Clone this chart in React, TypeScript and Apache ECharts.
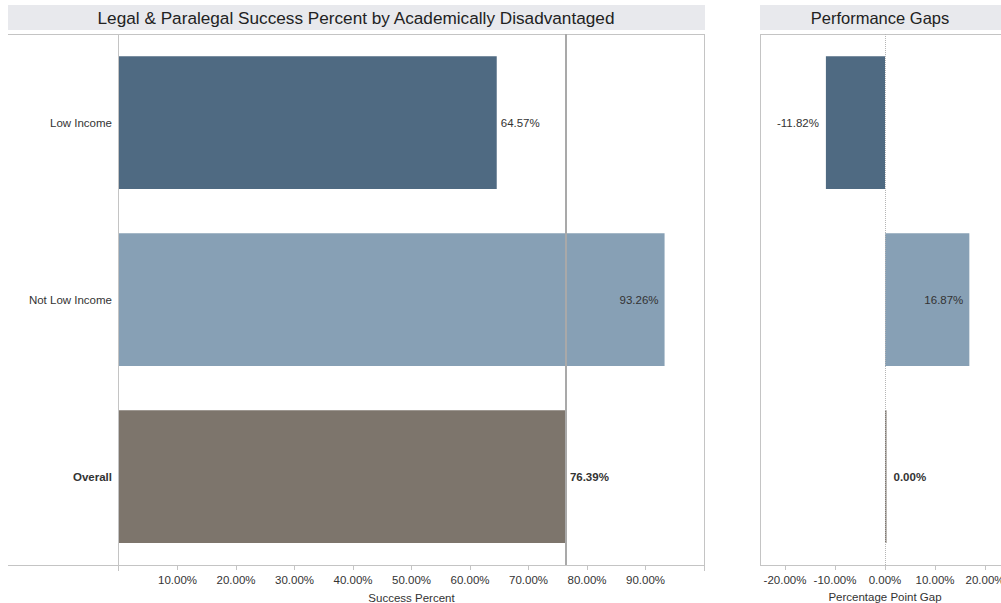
import React, { useEffect, useRef } from "react";
import * as echarts from "echarts";

const categories = ["Low Income", "Not Low Income", "Overall"];
const successPct = [64.57, 93.26, 76.39];
const gapPct = [-11.82, 16.87, 0.0];
const barColors = ["#4f6a82", "#87a0b5", "#7d756c"];
const rightTicks = [-20, -10, 0, 10, 20];

const FONT = "'Liberation Sans', Arial, sans-serif";
const TEXT = "#333333";
const FRAME = "#c4c4c4";

export default function App() {
  const ref = useRef<HTMLDivElement>(null);
  useEffect(() => {
    if (!ref.current) return;
    const chart = echarts.init(ref.current, undefined, { renderer: "svg" });
    const overallIdx = categories.indexOf("Overall");

    const leftLabelPos = ["right", "insideRight", "right"];
    const rightLabelPos = ["left", "insideRight", "right"];

    const fmt = (v: number) => v.toFixed(2) + "%";

    const leftData = successPct.map((v, i) => ({
      value: v,
      itemStyle: { color: barColors[i] },
      label: {
        show: true,
        position: leftLabelPos[i],
        distance: i === 1 ? 6 : 4,
        formatter: fmt(v),
        color: TEXT,
        fontSize: 11.5,
        fontFamily: FONT,
        fontWeight: i === overallIdx ? "bold" : "normal",
      },
    }));
    const rightData = gapPct.map((v, i) => ({
      value: v,
      itemStyle: { color: barColors[i] },
      label: {
        show: true,
        position: rightLabelPos[i],
        distance: i === 1 ? 6 : 7,
        formatter: fmt(v),
        color: TEXT,
        fontSize: 11.5,
        fontFamily: FONT,
        fontWeight: i === overallIdx ? "bold" : "normal",
      },
    }));

    const option: any = {
      animation: false,
      backgroundColor: "#ffffff",
      textStyle: { fontFamily: FONT },
      grid: [
        { left: 119, top: 34, width: 585, height: 531, containLabel: false, outerBoundsMode: "none" },
        { left: 761, top: 34, width: 240, height: 531, containLabel: false, outerBoundsMode: "none" },
      ],
      xAxis: [
        {
          type: "value",
          gridIndex: 0,
          min: 0,
          max: 100,
          interval: 10,
          axisLine: { show: false },
          axisTick: { show: true, length: 5, lineStyle: { color: FRAME } },
          splitLine: { show: false },
          axisLabel: {
            showMinLabel: false,
            showMaxLabel: false,
            color: TEXT,
            fontSize: 11.5,
            fontFamily: FONT,
            margin: 9,
            formatter: (v: number) => fmt(v),
          },
          name: "Success Percent",
          nameLocation: "middle",
          nameGap: 27,
          nameTextStyle: { color: TEXT, fontSize: 11.5, fontFamily: FONT },
        },
        {
          type: "value",
          gridIndex: 1,
          min: -24.8,
          max: 23.2,
          axisLine: { show: false },
          axisTick: {
            show: true,
            length: 5,
            customValues: rightTicks,
            lineStyle: { color: FRAME },
          },
          splitLine: { show: false },
          axisLabel: {
            customValues: rightTicks,
            color: TEXT,
            fontSize: 11.5,
            fontFamily: FONT,
            margin: 9,
            formatter: (v: number) => fmt(v),
          },
        },
      ],
      yAxis: [
        {
          type: "category",
          gridIndex: 0,
          data: categories,
          inverse: true,
          axisLine: { show: false },
          axisTick: { show: false },
          axisLabel: {
            color: TEXT,
            fontSize: 11.5,
            fontFamily: FONT,
            margin: 7,
            formatter: (v: string) => (v === "Overall" ? "{b|" + v + "}" : v),
            rich: {
              b: { fontWeight: "bold", color: TEXT, fontSize: 11.5, fontFamily: FONT },
            },
          },
        },
        {
          type: "category",
          gridIndex: 1,
          data: categories,
          inverse: true,
          axisLine: { show: false },
          axisTick: { show: false },
          axisLabel: { show: false },
        },
      ],
      series: [
        {
          type: "bar",
          xAxisIndex: 0,
          yAxisIndex: 0,
          barWidth: "75%",
          data: leftData,
          markLine: {
            silent: true,
            symbol: "none",
            label: { show: false },
            lineStyle: { color: "#a9a9a9", width: 2, type: "solid" },
            data: [{ xAxis: successPct[overallIdx] }],
          },
        },
        {
          type: "bar",
          xAxisIndex: 1,
          yAxisIndex: 1,
          barWidth: "75%",
          barMinHeight: 1.5,
          data: rightData,
          markLine: {
            silent: true,
            symbol: "none",
            label: { show: false },
            lineStyle: { color: "#b5b5b5", width: 1, type: "dotted" },
            data: [{ xAxis: 0 }],
          },
        },
      ],
      graphic: [
        { type: "rect", shape: { x: 8, y: 5, width: 697, height: 25 }, style: { fill: "#e8e9ed" }, silent: true },
        {
          type: "text",
          x: 356,
          y: 18,
          style: {
            text: "Legal & Paralegal Success Percent by Academically Disadvantaged",
            fill: "#222222",
            font: "17.2px 'Liberation Sans', Arial, sans-serif",
            align: "center",
            verticalAlign: "middle",
          },
          silent: true,
        },
        { type: "rect", shape: { x: 760, y: 5, width: 245, height: 25 }, style: { fill: "#e8e9ed" }, silent: true },
        {
          type: "text",
          x: 880,
          y: 18,
          style: {
            text: "Performance Gaps",
            fill: "#222222",
            font: "16.5px 'Liberation Sans', Arial, sans-serif",
            align: "center",
            verticalAlign: "middle",
          },
          silent: true,
        },
        {
          type: "text",
          x: 885,
          y: 597,
          style: {
            text: "Percentage Point Gap",
            fill: TEXT,
            font: "11.5px 'Liberation Sans', Arial, sans-serif",
            align: "center",
            verticalAlign: "middle",
          },
          silent: true,
        },
        // left panel frame
        { type: "line", shape: { x1: 8, y1: 34.5, x2: 705, y2: 34.5 }, style: { stroke: FRAME, lineWidth: 1 }, silent: true },
        { type: "line", shape: { x1: 8, y1: 565.5, x2: 705, y2: 565.5 }, style: { stroke: FRAME, lineWidth: 1 }, silent: true },
        { type: "line", shape: { x1: 118.5, y1: 34, x2: 118.5, y2: 571 }, style: { stroke: FRAME, lineWidth: 1 }, silent: true },
        { type: "line", shape: { x1: 704.5, y1: 34, x2: 704.5, y2: 571 }, style: { stroke: FRAME, lineWidth: 1 }, silent: true },
        // right panel frame
        { type: "line", shape: { x1: 760, y1: 34.5, x2: 1001, y2: 34.5 }, style: { stroke: FRAME, lineWidth: 1 }, silent: true },
        { type: "line", shape: { x1: 760, y1: 565.5, x2: 1001, y2: 565.5 }, style: { stroke: FRAME, lineWidth: 1 }, silent: true },
        { type: "line", shape: { x1: 760.5, y1: 34, x2: 760.5, y2: 566 }, style: { stroke: FRAME, lineWidth: 1 }, silent: true },
      ],
    };
    chart.setOption(option);
    return () => chart.dispose();
  }, []);
  return (
    <div
      ref={ref}
      style={{ position: "absolute", left: 0, top: 0, width: 1001, height: 603 }}
    />
  );
}
